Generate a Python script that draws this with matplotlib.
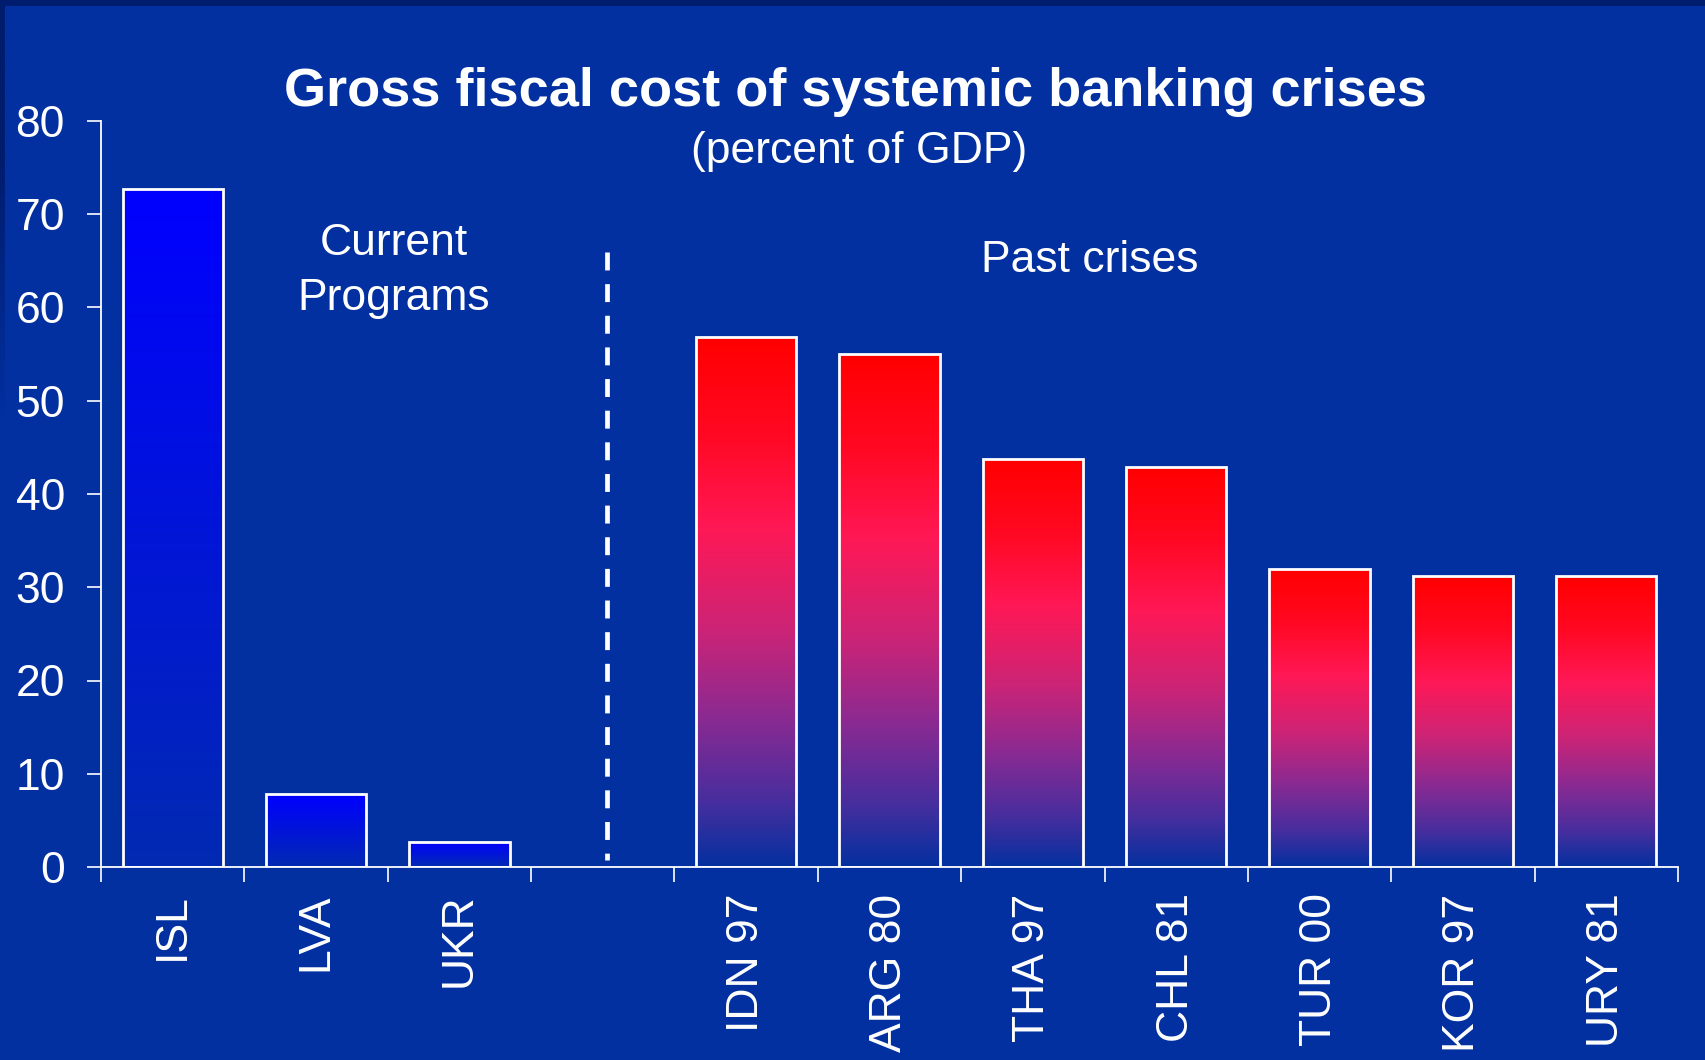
import numpy as np
import matplotlib
matplotlib.use("Agg")
import matplotlib.pyplot as plt
from matplotlib.colors import LinearSegmentedColormap
from matplotlib.patches import Rectangle

plt.rcParams['font.family'] = ['Liberation Sans', 'DejaVu Sans']

# Gross fiscal cost of systemic banking crises, percent of GDP
current = ["ISL", "LVA", "UKR"]
current_cost = [72.7, 7.8, 2.7]
past = ["IDN 97", "ARG 80", "THA 97", "CHL 81", "TUR 00", "KOR 97", "URY 81"]
past_cost = [56.8, 55.0, 43.8, 42.9, 32.0, 31.2, 31.2]
yticks = [0, 10, 20, 30, 40, 50, 60, 70, 80]

BG = "#0230A0"
WHITE = "white"

blue_cmap = LinearSegmentedColormap.from_list(
    "blue_fade", [(0.0, (0/255, 0/255, 255/255)),
                  (1.0, (2/255, 42/255, 178/255))])
red_cmap = LinearSegmentedColormap.from_list(
    "red_fade", [(0.0, (255/255, 0/255, 0/255)),
                 (0.18, (255/255, 8/255, 34/255)),
                 (0.36, (255/255, 24/255, 86/255)),
                 (0.55, (205/255, 36/255, 118/255)),
                 (0.72, (138/255, 42/255, 146/255)),
                 (0.88, (70/255, 46/255, 158/255)),
                 (1.0, (4/255, 48/255, 160/255))])

fig = plt.figure(figsize=(17.05, 10.6), dpi=100, facecolor=BG)
# dark slide frame: a band along the top, and a strip on the left that fades out
fig.patches.append(Rectangle((0, 1 - 6/1060), 1, 6/1060, transform=fig.transFigure,
                             facecolor="#001C6E", edgecolor="none", zorder=0))
strip = fig.add_axes([0, 1 - 420/1060, 5/1705, 420/1060], zorder=0)
strip.axis("off")
fade = np.zeros((256, 1, 4))
fade[..., 0] = 0 / 255
fade[..., 1] = 28 / 255
fade[..., 2] = 110 / 255
fade[..., 3] = np.clip(np.linspace(1.6, 0, 256), 0, 1).reshape(-1, 1)
strip.imshow(fade, aspect="auto", extent=[0, 1, 0, 1], origin="upper")

ax = fig.add_axes([101/1705, 1 - 867/1060, (1678 - 101)/1705, (867 - 121)/1060])
ax.set_facecolor(BG)

pos_cur = np.arange(len(current))
pos_past = np.arange(len(current) + 1, len(current) + 1 + len(past))

bars_cur = ax.bar(pos_cur, current_cost, width=0.7, facecolor="none",
                  edgecolor=WHITE, linewidth=2, zorder=3)
bars_past = ax.bar(pos_past, past_cost, width=0.7, facecolor="none",
                   edgecolor=WHITE, linewidth=2, zorder=3)

grad = np.linspace(0, 1, 256).reshape(-1, 1)


def fill_gradient(bar, cmap):
    x0, y0 = bar.get_x(), bar.get_y()
    w, h = bar.get_width(), bar.get_height()
    im = ax.imshow(grad, cmap=cmap, extent=[x0, x0 + w, y0, y0 + h],
                   origin="upper", aspect="auto", zorder=2,
                   interpolation="bilinear")
    im.set_clip_path(bar)


for b in bars_cur:
    fill_gradient(b, blue_cmap)
for b in bars_past:
    fill_gradient(b, red_cmap)

# divider between current programs and past crises
ax.plot([3.03, 3.03], [66, 0.8], color=WHITE, linewidth=3.4,
        linestyle=(0, (3.8, 2.9)), dash_capstyle="butt", zorder=4)

ax.set_xlim(-0.5, 10.5)
ax.set_ylim(0, 80)

ax.set_xticks(np.arange(-0.5, 11.0, 1.0))
ax.set_xticklabels([])
ax.set_xticks(list(pos_cur) + list(pos_past), current + past, minor=True)
ax.tick_params(axis="x", which="major", direction="out", length=11,
               width=1.2, color=WHITE)
ax.tick_params(axis="x", which="minor", length=0, pad=19, labelsize=32,
               labelcolor=WHITE, labelrotation=90)
for lbl in ax.get_xticklabels(minor=True):
    lbl.set_verticalalignment("top")

ax.set_yticks(yticks)
ax.tick_params(axis="y", direction="out", length=10, width=1.2, color=WHITE,
               pad=16, labelsize=32, labelcolor=WHITE)

for side in ("top", "right"):
    ax.spines[side].set_visible(False)
for side in ("left", "bottom"):
    ax.spines[side].set_color(WHITE)
    ax.spines[side].set_linewidth(1.3)

ax.text(1.54, 63.9, "Current\nPrograms", ha="center", va="center",
        fontsize=32, color=WHITE, linespacing=1.42)
ax.text(6.4, 65.0, "Past crises", ha="center", va="center",
        fontsize=32, color=WHITE)

fig.text(0.502, 1 - 105.5/1060, "Gross fiscal cost of systemic banking crises",
         ha="center", va="baseline", fontsize=39, fontweight="bold", color=WHITE)
fig.text(0.504, 1 - 163/1060, "(percent of GDP)", ha="center", va="baseline",
         fontsize=32, color=WHITE)

fig.savefig("out.png", dpi=100, facecolor=BG)
